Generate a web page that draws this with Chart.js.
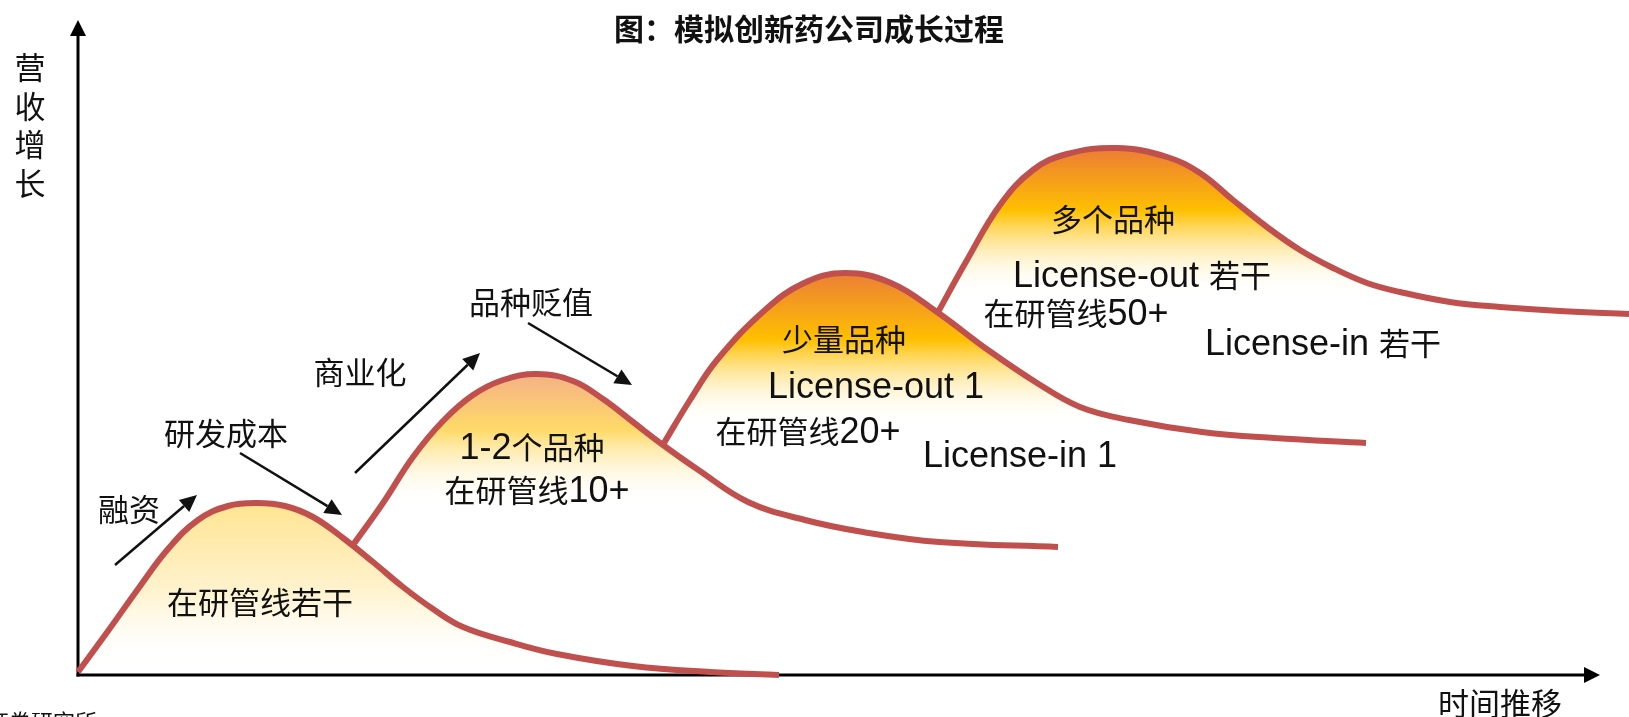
<!DOCTYPE html>
<html>
<head>
<meta charset="utf-8">
<script src="https://cdn.jsdelivr.net/npm/chart.js@4.4.1/dist/chart.umd.min.js"></script>
<style>
  html, body { margin: 0; padding: 0; background: #fff; }
  canvas { display: block; }
</style>
</head>
<body>
<canvas id="growth_chart" width="1629" height="717"></canvas>
<script>
// Curve points (x = time, y = revenue, arbitrary units)
const stage1X = [0, 30, 60, 90, 120, 150, 179, 207, 235, 265, 295, 325, 355, 385, 432, 479, 555, 632, 701];
const stage1Y = [3, 44, 86, 126, 155, 169, 172, 169, 158, 137, 113, 88, 66, 48, 33, 21, 9, 3, 0];

const stage2X = [275, 305, 335, 365, 395, 425, 459, 495, 525, 555, 585, 619, 670, 727, 785, 861, 980];
const stage2Y = [130, 172, 218, 254, 280, 295, 301, 294, 276, 253, 230, 206, 173, 155, 143, 133, 128];

const stage3X = [586, 612, 639, 687, 726, 767, 813, 859, 910, 959, 1002, 1051, 1124, 1196, 1288];
const stage3Y = [232, 275, 315, 365, 392, 402, 392, 363, 325, 292, 268, 255, 243, 237, 232];

const stage4X = [859, 889, 922, 955, 989, 1039, 1089, 1122, 1155, 1189, 1222, 1255, 1289, 1322, 1372, 1422, 1482, 1551];
const stage4Y = [361, 415, 470, 505, 521, 527, 518, 502, 475, 448, 425, 407, 392, 383, 373, 368, 364, 361];

// Text
const chartTitle = "图：模拟创新药公司成长过程";
const yAxisTitle = ["营", "收", "增", "长"];
const xAxisTitle = "时间推移";
const sourceText = "证券研究所";

// Annotations placed in data units
const notes = [
  { text: "融资", x: 51, y: 154 },
  { text: "研发成本", x: 148, y: 230 },
  { text: "商业化", x: 282, y: 291 },
  { text: "品种贬值", x: 453, y: 361 },
  { text: "在研管线若干", x: 182, y: 61 },
  { text: "1-2个品种", x: 454, y: 216 },
  { text: "在研管线10+", x: 459, y: 173 },
  { text: "少量品种", x: 766, y: 324 },
  { text: "License-out 1", x: 798, y: 277 },
  { text: "在研管线20+", x: 730, y: 232 },
  { text: "License-in 1", x: 942, y: 208 },
  { text: "多个品种", x: 1035, y: 444 },
  { text: "License-out 若干", x: 1064, y: 388 },
  { text: "在研管线50+", x: 998, y: 350 },
  { text: "License-in 若干", x: 1245, y: 320 },
];

const arrows = [
  [[37, 110], [119, 180]],
  [[162, 222], [264, 160]],
  [[277, 202], [402, 322]],
  [[450, 352], [554, 290]],
];

// Gradient fills under each hump
const fills = [
  { top: 170, bottom: 5, stops: [[0, "rgba(255,228,145,1)"], [0.55, "rgba(255,242,205,0.9)"], [1, "rgba(255,255,255,0)"]] },
  { top: 297, bottom: 170, stops: [[0, "rgba(245,180,132,1)"], [0.41, "rgba(255,218,105,1)"], [1, "rgba(255,255,255,0)"]] },
  { top: 397, bottom: 250, stops: [[0, "rgba(237,132,50,1)"], [0.42, "rgba(255,192,0,1)"], [1, "rgba(255,255,255,0)"]] },
  { top: 523, bottom: 380, stops: [[0, "rgba(237,128,50,1)"], [0.41, "rgba(255,192,0,1)"], [1, "rgba(255,255,255,0)"]] },
];

const CJK_FONT = "'Noto Sans CJK SC', sans-serif";
const LATIN_FONT = "'Liberation Sans', Arial, sans-serif";
const CJK_RE = /[\u3000-\u9fff\uff00-\uffef]/;

// Draw text mixing a CJK font and a Latin font, like the original
const drawMixed = (ctx, text, x, y, align, cjkSize, latinSize, weight) => {
  const runs = text.match(/[\u3000-\u9fff\uff00-\uffef]+|[^\u3000-\u9fff\uff00-\uffef]+/g);
  const fontOf = (r) => CJK_RE.test(r)
    ? `${weight} ${cjkSize}px ${CJK_FONT}`
    : `${weight} ${latinSize}px ${LATIN_FONT}`;
  let total = 0;
  const widths = runs.map((r) => {
    ctx.font = fontOf(r);
    const w = ctx.measureText(r).width;
    total += w;
    return w;
  });
  let cx = align === "center" ? x - total / 2 : align === "right" ? x - total : x;
  ctx.textAlign = "left";
  ctx.textBaseline = "alphabetic";
  runs.forEach((r, i) => {
    ctx.font = fontOf(r);
    ctx.fillText(r, cx, y);
    cx += widths[i];
  });
};

const drawArrow = (ctx, x1, y1, x2, y2, width, headLen, headHalf) => {
  const a = Math.atan2(y2 - y1, x2 - x1);
  const bx = x2 - headLen * Math.cos(a);
  const by = y2 - headLen * Math.sin(a);
  ctx.lineWidth = width;
  ctx.beginPath();
  ctx.moveTo(x1, y1);
  ctx.lineTo(bx, by);
  ctx.stroke();
  ctx.beginPath();
  ctx.moveTo(x2, y2);
  ctx.lineTo(bx + headHalf * Math.sin(a), by - headHalf * Math.cos(a));
  ctx.lineTo(bx - headHalf * Math.sin(a), by + headHalf * Math.cos(a));
  ctx.closePath();
  ctx.fill();
};

// Axes with arrow heads
const axesPlugin = {
  id: "axes",
  beforeDatasetsDraw(chart) {
    const { ctx, scales: { x, y } } = chart;
    const x0 = x.getPixelForValue(0);
    const y0 = y.getPixelForValue(0);
    ctx.save();
    ctx.strokeStyle = "#000";
    ctx.fillStyle = "#000";
    drawArrow(ctx, x0, y0 + 1.5, x0, y.getPixelForValue(655), 3, 16, 8);
    drawArrow(ctx, x0 - 1.5, y0, x.getPixelForValue(1522), y0, 3, 16, 8);
    ctx.restore();
  },
};

// Labels, arrows and titles
const textPlugin = {
  id: "labels",
  afterDatasetsDraw(chart) {
    const { ctx, scales: { x, y } } = chart;
    ctx.save();
    ctx.fillStyle = "#111";
    ctx.strokeStyle = "#111";

    arrows.forEach(([from, to]) => {
      drawArrow(ctx, x.getPixelForValue(from[0]), y.getPixelForValue(from[1]),
        x.getPixelForValue(to[0]), y.getPixelForValue(to[1]), 2.5, 17, 8);
    });

    notes.forEach((n) => {
      drawMixed(ctx, n.text, x.getPixelForValue(n.x), y.getPixelForValue(n.y), "center", 31, 36, "normal");
    });

    drawMixed(ctx, chartTitle, 809, 40, "center", 30, 30, "bold");
    yAxisTitle.forEach((ch, i) => {
      drawMixed(ctx, ch, 30, 79 + i * 38.7, "center", 31, 31, "normal");
    });
    drawMixed(ctx, xAxisTitle, 1438, 715, "left", 31, 31, "normal");
    drawMixed(ctx, sourceText, 97, 730, "right", 22, 22, "normal");
    ctx.restore();
  },
};

const toPoints = (xs, ys) => xs.map((v, i) => ({ x: v, y: ys[i] }));

const makeFill = (idx) => (context) => {
  const chart = context.chart;
  if (!chart.chartArea) return "rgba(0,0,0,0)";
  const f = fills[idx];
  const ys = chart.scales.y;
  const g = chart.ctx.createLinearGradient(0, ys.getPixelForValue(f.top), 0, ys.getPixelForValue(f.bottom));
  f.stops.forEach(([pos, color]) => g.addColorStop(pos, color));
  return g;
};

const stages = [
  toPoints(stage1X, stage1Y),
  toPoints(stage2X, stage2Y),
  toPoints(stage3X, stage3Y),
  toPoints(stage4X, stage4Y),
];

new Chart(document.getElementById("growth_chart"), {
  type: "line",
  data: {
    datasets: stages.map((pts, i) => ({
      data: pts,
      borderColor: "#C0504D",
      borderWidth: 6,
      backgroundColor: makeFill(i),
      fill: "origin",
      pointRadius: 0,
      tension: 0.4,
      clip: false,
    })),
  },
  options: {
    responsive: false,
    animation: false,
    events: [],
    layout: { padding: { left: 78, right: 0, top: 20, bottom: 42 } },
    scales: {
      x: { type: "linear", min: 0, max: 1551, display: false },
      y: { type: "linear", min: 0, max: 655, display: false },
    },
    plugins: {
      legend: { display: false },
      tooltip: { enabled: false },
      filler: { drawTime: "beforeDatasetsDraw" },
    },
  },
  plugins: [axesPlugin, textPlugin],
});
</script>
</body>
</html>
